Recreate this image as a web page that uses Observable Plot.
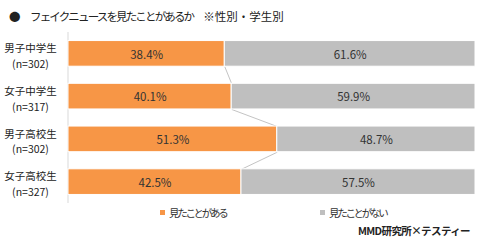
<!DOCTYPE html>
<html>
<head>
<meta charset="utf-8">
<script src="https://cdn.jsdelivr.net/npm/d3@7"></script>
<script src="https://cdn.jsdelivr.net/npm/@observablehq/plot@0.6"></script>
<style>
  html, body { margin: 0; padding: 0; background: #fff; }
  #wrap { position: relative; width: 480px; height: 241px; overflow: hidden;
          font-family: "Noto Sans CJK JP", "Noto Sans", sans-serif; color: #222; }
  #title { position: absolute; left: 9px; top: 8px; font-size: 11.5px; line-height: 16px; white-space: nowrap; }
  #title .b { display: inline-block; width: 21px; }
  #title .k { letter-spacing: -1.85px; margin-right: 10px; }
  #chart { position: absolute; left: 0; top: 30px; }
  .leg { position: absolute; top: 205px; font-size: 10.5px; line-height: 16px; white-space: nowrap; color: #333; }
  .leg .t { letter-spacing: -2.3px; }
  .sw { display: inline-block; width: 5px; height: 5px; margin-right: 4px; vertical-align: 2px; }
  #caption { position: absolute; right: 10px; top: 223px; font-size: 10.5px; font-weight: bold; line-height: 16px; color: #222; letter-spacing: -0.6px; }
</style>
</head>
<body>
<div id="wrap">
  <div id="title"><span class="b">●</span><span class="k">フェイクニュースを見たことがあるか</span><span>※性別・学生別</span></div>
  <div id="chart"></div>
  <div id="legend"></div>
  <div id="caption">MMD研究所×テスティー</div>
</div>
<script>
const groups = ["男子中学生", "女子中学生", "男子高校生", "女子高校生"];
const sampleSizes = [302, 317, 302, 327];
const seen = [38.4, 40.1, 51.3, 42.5];
const notSeen = [61.6, 59.9, 48.7, 57.5];
const answers = ["見たことがある", "見たことがない"];
const colors = ["#F79646", "#BFBFBF"];

const h = 0.3; // half bar thickness in band units
const rows = groups.flatMap((g, i) => [
  {i, group: g, answer: answers[0], x1: 0, x2: seen[i], v: seen[i]},
  {i, group: g, answer: answers[1], x1: seen[i], x2: seen[i] + notSeen[i], v: notSeen[i]}
]);
const links = groups.slice(0, -1).map((g, i) => ({
  xa: seen[i], ya: i + h, xb: seen[i + 1], yb: i + 1 - h
}));

const chart = Plot.plot({
  width: 480, height: 175, marginLeft: 68, marginRight: 5, marginTop: 2, marginBottom: 2,
  style: {fontFamily: "'Noto Sans CJK JP', 'Noto Sans', sans-serif", background: "transparent"},
  x: {domain: [0, 100], axis: null},
  y: {domain: [-0.5, 3.5], reverse: true, axis: null},
  color: {domain: answers, range: colors},
  marks: [
    Plot.ruleX([0], {stroke: "#d9d9d9", dx: -0.5}),
    Plot.link(links, {x1: "xa", y1: "ya", x2: "xb", y2: "yb", stroke: "#c4c4c4", strokeWidth: 1}),
    Plot.rectX(rows, {x1: "x1", x2: "x2", y1: d => d.i - h, y2: d => d.i + h, fill: "answer", stroke: "white", strokeWidth: 1}),
    Plot.text(rows, {x: d => (d.x1 + d.x2) / 2, y: "i", text: d => d.v.toFixed(1) + "%", fill: "#333", fontSize: 11.5, dy: 1}),
    Plot.text(groups, {y: (d, i) => i, text: (d, i) => `${d}\n(n=${sampleSizes[i]})`, frameAnchor: "left", dx: -38, dy: 1, textAnchor: "middle", lineHeight: 1.5, fontSize: 10.5, fill: "#222"})
  ]
});
document.getElementById("chart").appendChild(chart);

const legend = document.getElementById("legend");
const legendX = [160, 320];
answers.forEach((a, k) => {
  const el = document.createElement("div");
  el.className = "leg";
  el.style.left = legendX[k] + "px";
  el.innerHTML = `<span class="sw" style="background:${colors[k]}"></span><span class="t">${a}</span>`;
  legend.appendChild(el);
});
</script>
</body>
</html>
